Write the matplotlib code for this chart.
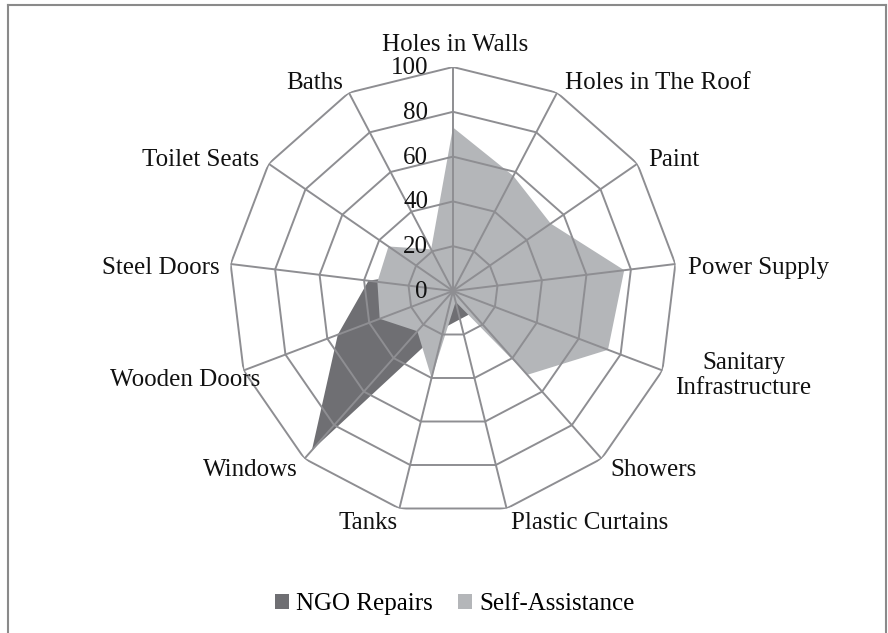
import numpy as np
import matplotlib
matplotlib.use("Agg")
import matplotlib.pyplot as plt
from matplotlib.patches import Patch
from matplotlib.lines import Line2D

categories = ["Holes in Walls", "Holes in The Roof", "Paint", "Power Supply",
              "Sanitary\nInfrastructure", "Showers", "Plastic Curtains", "Tanks",
              "Windows", "Wooden Doors", "Steel Doors", "Toilet Seats", "Baths"]
ngo_repairs = [0, 0, 0, 0, 3, 13, 13, 17, 95, 55, 38, 15, 0]
self_assistance = [73, 58, 53, 77, 74, 50, 5, 40, 24, 35, 34, 35, 21]
series_names = ["NGO Repairs", "Self-Assistance"]
ring_values = [20, 40, 60, 80, 100]
tick_labels = ["0", "20", "40", "60", "80", "100"]

# label offsets (pixels) from outer vertex and alignment
label_offsets = [(2, 22, "center"), (8, 10, "left"), (11, 4, "left"), (13, -4, "left"),
                 (13, -5, "left"), (9, -11, "left"), (4, -15, "left"), (-2, -15, "right"),
                 (-7, -11, "right"), (17, -10, "right"), (-11, -4, "right"),
                 (-10, 4, "right"), (-6, 10, "right")]

W, H = 888, 633
DPI = 100
fig = plt.figure(figsize=(W / DPI, H / DPI), dpi=DPI)
plt.rcParams['font.family'] = ['Liberation Serif', 'DejaVu Serif']

cx, cy, R = 453, 291, 224
ax = fig.add_axes([(cx - R) / W, (H - cy - R) / H, 2 * R / W, 2 * R / H], projection="polar")
ax.set_theta_zero_location("N")
ax.set_theta_direction(-1)
ax.set_ylim(0, 100)
ax.grid(False)
ax.spines["polar"].set_visible(False)
ax.set_xticks([])
ax.set_yticks([])
ax.patch.set_alpha(0)

n = len(categories)
theta = np.arange(n) * 2 * np.pi / n
theta_c = np.append(theta, theta[0])

grid_col = "#8e8e92"
for rv in ring_values:
    ax.plot(theta_c, [rv] * (n + 1), color=grid_col, lw=1.4, zorder=3)
for t in theta:
    ax.plot([t, t], [0, 100], color=grid_col, lw=1.4, zorder=3)

dark = "#6f6f73"
light = "#b4b6b9"
ax.fill(theta_c, np.append(ngo_repairs, ngo_repairs[0]), color=dark, lw=0, zorder=1)
ax.fill(theta_c, np.append(self_assistance, self_assistance[0]), color=light, lw=0, zorder=2)

fs = 18
px = 72.0 / DPI
for i, lab in enumerate(categories):
    dx, dy, ha = label_offsets[i]
    ax.annotate(lab, xy=(theta[i], 100), xytext=(dx * px, dy * px), textcoords="offset points",
                ha=ha, va="center", fontsize=fs, multialignment="center", color="#111111",
                annotation_clip=False, linespacing=1.15)

for v, tl in zip([0] + ring_values, tick_labels):
    ax.annotate(tl, xy=(0, v), xytext=(-25 * px, -1 * px), textcoords="offset points",
                ha="right", va="center", fontsize=fs, color="#111111", annotation_clip=False)

handles = [Patch(facecolor=dark, edgecolor="none"), Patch(facecolor=light, edgecolor="none")]
fig.legend(handles, series_names, loc="center", bbox_to_anchor=(455 / W, 1 - 604 / H),
           ncol=2, frameon=False, fontsize=fs, handlelength=0.55, handleheight=0.55,
           handletextpad=0.3, columnspacing=1.0)

# outer border
bc = "#8a8a8a"
fig.add_artist(Line2D([8 / W, 8 / W], [0, 1 - 5 / H], color=bc, lw=1.5))
fig.add_artist(Line2D([8 / W, 886 / W], [1 - 5 / H, 1 - 5 / H], color=bc, lw=1.5))
fig.add_artist(Line2D([886 / W, 886 / W], [0, 1 - 5 / H], color=bc, lw=1.5))

fig.savefig("out.png", dpi=DPI)
